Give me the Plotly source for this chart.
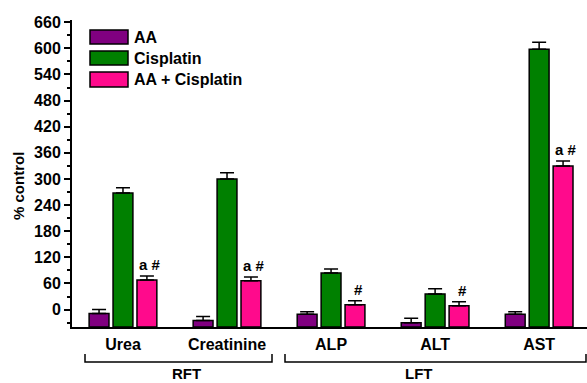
import plotly.graph_objects as go

categories = ["Urea", "Creatinine", "ALP", "ALT", "AST"]
series_names = ["AA", "Cisplatin", "AA + Cisplatin"]
aa_vals = [-9, -25, -11, -30, -11]
aa_err = [9, 9, 6, 10, 6]
cis_vals = [268, 300, 84, 36, 598]
cis_err = [12, 14, 9, 12, 16]
comb_vals = [68, 66, 11, 9, 330]
comb_err = [9, 9, 9, 9, 11]
comb_marks = ["a #", "a #", "#", "#", "a #"]
y_ticks = list(range(0, 661, 60))

colors = ["#800080", "#008000", "#FF0A8C"]
BASE = -40

fig = go.Figure()
for name, vals, errs, col in zip(series_names, [aa_vals, cis_vals, comb_vals],
                                 [aa_err, cis_err, comb_err], colors):
    fig.add_trace(go.Bar(
        x=categories, y=[v - BASE for v in vals], base=BASE, name=name,
        marker=dict(color=col, line=dict(color="black", width=1.5)),
        error_y=dict(type="data", array=errs, arrayminus=[0] * len(errs),
                     symmetric=False, color="black", thickness=1.5, width=7),
        showlegend=False,
    ))

FAM = "Liberation Sans, Arial"
font_b = dict(family=FAM, size=15, color="black")
font_l = dict(family=FAM, size=16, color="black")

for c, v, e, m in zip(categories, comb_vals, comb_err, comb_marks):
    fig.add_annotation(x=c, y=v + e, text="<b>%s</b>" % m, showarrow=False,
                       xref="x", yref="y", xshift=27, yanchor="bottom", yshift=1,
                       font=font_b)

W, H = 587, 383
ml, mr, mt, mb = 72, 0, 20, 56
pw, ph = W - ml - mr, H - mt - mb
def px(x): return (x - ml) / pw
def py(y): return (H - mb - y) / ph

rows = [(30, 44), (51, 65), (72, 87)]
for (y0, y1), name, col in zip(rows, series_names, colors):
    fig.add_shape(type="rect", xref="paper", yref="paper",
                  x0=px(90), x1=px(128), y0=py(y1), y1=py(y0),
                  fillcolor=col, line=dict(color="black", width=1.5))
    fig.add_annotation(xref="paper", yref="paper", x=px(132), y=py((y0 + y1) / 2),
                       text="<b>%s</b>" % name, showarrow=False, xanchor="left",
                       yanchor="middle", font=font_l)

brackets = [("RFT", 85, 272, 170), ("LFT", 285, 586, 435)]
for lbl, xa, xb, xc in brackets:
    fig.add_shape(type="path", xref="paper", yref="paper",
                  path="M %f %f L %f %f L %f %f L %f %f" % (
                      px(xa), py(354), px(xa), py(362), px(xb), py(362), px(xb), py(354)),
                  line=dict(color="black", width=1.5))
    fig.add_annotation(xref="paper", yref="paper", x=px(xc), y=py(373),
                       text="<b>%s</b>" % lbl, showarrow=False, yanchor="middle",
                       font=font_b)

fig.add_annotation(xref="paper", yref="paper", x=px(18), y=py(186),
                   text="<b>% control</b>", showarrow=False, textangle=-90,
                   xanchor="center", yanchor="middle", font=font_b)

fig.update_layout(
    width=W, height=H, margin=dict(l=ml, r=mr, t=mt, b=mb, autoexpand=False),
    paper_bgcolor="white", plot_bgcolor="white",
    barmode="group", bargap=0.31, bargroupgap=0.17,
    font=font_b,
    xaxis=dict(range=[-0.49, 4.46], showline=True, linecolor="black", linewidth=2,
               ticks="outside", ticklen=2, tickcolor="rgba(0,0,0,0)", automargin=False,
               tickfont=font_l, showgrid=False, zeroline=False,
               tickvals=categories, ticktext=["<b>%s</b>" % c for c in categories]),
    yaxis=dict(range=[-40, 665], showline=True, linecolor="black", linewidth=2,
               ticks="outside", ticklen=6, tickwidth=2, tickcolor="black", automargin=False,
               tickvals=y_ticks, ticktext=["<b>%d</b>" % t for t in y_ticks],
               tickfont=dict(family=FAM, size=16, color="black"),
               showgrid=False, zeroline=False,
               minor=dict(ticks="outside", ticklen=3, tickwidth=1.5, tickcolor="black",
                          dtick=30, tick0=0, showgrid=False)),
)

fig.write_html("out.html", config={"displayModeBar": False},
               post_script="document.body.style.margin='0px';document.body.style.overflow='hidden';")
